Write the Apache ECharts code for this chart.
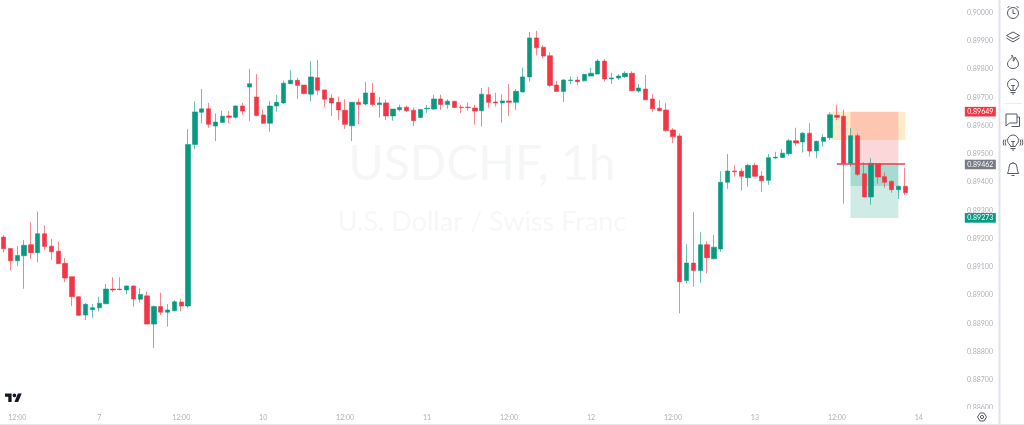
<!DOCTYPE html>
<html><head><meta charset="utf-8">
<style>html,body{margin:0;padding:0;background:#fff}#c{width:1024px;height:425px}</style>
<script src="https://cdn.jsdelivr.net/npm/echarts@6/dist/echarts.min.js"></script>
</head><body><div id="c"></div>
<script>
const tickLabels = ['12:00','7','12:00','10','12:00','11','12:00','12','12:00','13','12:00','14'];
const opens = [0.89205,0.89165,0.89121,0.89139,0.89178,0.89150,0.89217,0.89173,0.89155,0.89112,0.89065,0.88994,0.88929,0.88948,0.88955,0.88969,0.89021,0.89021,0.89018,0.89032,0.88985,0.88997,0.88897,0.88959,0.88939,0.88944,0.88975,0.88961,0.89533,0.89647,0.89659,0.89598,0.89611,0.89634,0.89629,0.89669,0.89736,0.89701,0.89637,0.89608,0.89669,0.89680,0.89748,0.89760,0.89743,0.89711,0.89769,0.89726,0.89697,0.89682,0.89654,0.89599,0.89682,0.89676,0.89715,0.89674,0.89680,0.89634,0.89656,0.89665,0.89654,0.89628,0.89659,0.89658,0.89694,0.89674,0.89686,0.89665,0.89665,0.89662,0.89652,0.89709,0.89683,0.89680,0.89687,0.89682,0.89719,0.89772,0.89910,0.89877,0.89847,0.89743,0.89720,0.89759,0.89761,0.89758,0.89775,0.89782,0.89828,0.89765,0.89768,0.89773,0.89785,0.89722,0.89729,0.89694,0.89661,0.89655,0.89584,0.89563,0.89051,0.89113,0.89087,0.89178,0.89128,0.89163,0.89399,0.89439,0.89438,0.89415,0.89459,0.89421,0.89406,0.89485,0.89487,0.89500,0.89546,0.89542,0.89573,0.89510,0.89544,0.89557,0.89636,0.89633,0.89466,0.89564,0.89429,0.89347,0.89465,0.89419,0.89402,0.89373,0.89385];
const closes = [0.89164,0.89121,0.89140,0.89176,0.89150,0.89217,0.89172,0.89153,0.89111,0.89060,0.88994,0.88928,0.88967,0.88955,0.88971,0.89021,0.89018,0.89019,0.89032,0.88986,0.89002,0.88897,0.88959,0.88939,0.88947,0.88976,0.88961,0.89533,0.89648,0.89659,0.89604,0.89612,0.89633,0.89629,0.89669,0.89651,0.89748,0.89635,0.89608,0.89669,0.89682,0.89750,0.89760,0.89742,0.89713,0.89772,0.89725,0.89693,0.89680,0.89655,0.89604,0.89682,0.89674,0.89715,0.89674,0.89680,0.89634,0.89658,0.89664,0.89652,0.89617,0.89657,0.89661,0.89694,0.89674,0.89686,0.89664,0.89663,0.89663,0.89651,0.89711,0.89682,0.89680,0.89687,0.89682,0.89721,0.89772,0.89910,0.89875,0.89846,0.89742,0.89720,0.89761,0.89761,0.89755,0.89781,0.89785,0.89828,0.89765,0.89768,0.89775,0.89785,0.89723,0.89733,0.89691,0.89659,0.89652,0.89582,0.89560,0.89047,0.89113,0.89087,0.89178,0.89132,0.89169,0.89399,0.89439,0.89436,0.89420,0.89459,0.89420,0.89404,0.89486,0.89488,0.89502,0.89546,0.89538,0.89573,0.89510,0.89544,0.89558,0.89638,0.89629,0.89466,0.89564,0.89427,0.89347,0.89466,0.89418,0.89399,0.89373,0.89385,0.89362];
const lows = [0.89151,0.89086,0.89103,0.89022,0.89127,0.89116,0.89159,0.89124,0.89111,0.89046,0.88961,0.88926,0.88911,0.88919,0.88942,0.88969,0.89011,0.89017,0.89003,0.88959,0.88973,0.88897,0.88813,0.88929,0.88888,0.88942,0.88942,0.88955,0.89516,0.89608,0.89592,0.89545,0.89609,0.89609,0.89624,0.89637,0.89616,0.89633,0.89605,0.89578,0.89649,0.89675,0.89748,0.89694,0.89710,0.89686,0.89708,0.89665,0.89634,0.89619,0.89588,0.89545,0.89604,0.89671,0.89669,0.89628,0.89619,0.89617,0.89650,0.89648,0.89598,0.89627,0.89645,0.89656,0.89655,0.89659,0.89663,0.89644,0.89652,0.89603,0.89596,0.89663,0.89667,0.89610,0.89634,0.89655,0.89716,0.89755,0.89848,0.89838,0.89736,0.89719,0.89683,0.89747,0.89742,0.89756,0.89775,0.89782,0.89755,0.89747,0.89761,0.89768,0.89723,0.89716,0.89690,0.89647,0.89651,0.89578,0.89538,0.88935,0.89041,0.89029,0.89043,0.89077,0.89126,0.89153,0.89376,0.89419,0.89369,0.89383,0.89419,0.89365,0.89390,0.89481,0.89485,0.89493,0.89528,0.89504,0.89490,0.89484,0.89525,0.89548,0.89619,0.89323,0.89454,0.89421,0.89347,0.89320,0.89394,0.89380,0.89362,0.89340,0.89354];
const highs = [0.89212,0.89166,0.89173,0.89195,0.89258,0.89295,0.89247,0.89199,0.89190,0.89131,0.89065,0.88994,0.88972,0.88968,0.88994,0.89039,0.89063,0.89063,0.89034,0.89034,0.89024,0.89012,0.88963,0.89008,0.88968,0.88982,0.88987,0.89588,0.89686,0.89729,0.89680,0.89643,0.89652,0.89651,0.89671,0.89680,0.89800,0.89782,0.89656,0.89687,0.89708,0.89759,0.89796,0.89769,0.89743,0.89828,0.89832,0.89726,0.89711,0.89703,0.89693,0.89682,0.89696,0.89754,0.89750,0.89701,0.89691,0.89658,0.89674,0.89670,0.89664,0.89658,0.89673,0.89709,0.89709,0.89693,0.89686,0.89673,0.89682,0.89673,0.89733,0.89736,0.89716,0.89711,0.89747,0.89729,0.89805,0.89931,0.89935,0.89884,0.89859,0.89758,0.89764,0.89773,0.89773,0.89782,0.89804,0.89835,0.89835,0.89787,0.89782,0.89792,0.89792,0.89747,0.89779,0.89711,0.89690,0.89680,0.89590,0.89572,0.89180,0.89293,0.89222,0.89190,0.89213,0.89439,0.89499,0.89460,0.89448,0.89464,0.89468,0.89438,0.89499,0.89507,0.89517,0.89553,0.89592,0.89577,0.89609,0.89546,0.89569,0.89647,0.89674,0.89655,0.89591,0.89572,0.89470,0.89484,0.89466,0.89434,0.89406,0.89387,0.89451];
const stopPrice = 0.89649, entryPrice = 0.89462, targetPrice = 0.89273;
const entryLinePrice = 0.89466, orangeLowPrice = 0.89549, darkGreenLowPrice = 0.89386;
const yMin = 0.886, yMax = 0.900, yStep = 0.001;
const slotCount = 146, tagSlot = 143;

const UP = '#089981', DOWN = '#F23645';
const categories = Array.from({length: slotCount}, (_, i) => (i % 12 === 2 && tickLabels[(i - 2) / 12]) || '');
const ohlc = opens.map((o, i) => [o, closes[i], lows[i], highs[i]]);
const FONT = 'Lato, "Open Sans", sans-serif';
const ICON = '#555965';
const AXIS_TEXT = '#aeb1ba';

let shapeId = 0;
function shapeFrom(d) {
  const name = 'tvShape' + (shapeId++);
  echarts.graphic.registerShape(name, echarts.graphic.extendPath(d));
  return name;
}
function icon(x, y, d) {
  return {type:shapeFrom(d), x, y, silent:true, z:50, style:{fill:'none', stroke:ICON, lineWidth:1}};
}
const bulb = 'M-2.5 3.5C-2.5 1.5-5.5 .5-5.5-2.5A5.5 5.5 0 0 1 5.5-2.5C5.5 .5 2.5 1.5 2.5 3.5ZM-2.5 5.5H2.5M-1 7H1M0 3.5V-1.5M-1.8-1.5H1.8';
const graphics = [
  {type:'text', x:482, y:165, z:-1, silent:true, style:{text:'USDCHF, 1h', font:'48px '+FONT, fill:'#f5f6f6', align:'center', verticalAlign:'middle'}},
  {type:'text', x:482, y:222, z:-1, silent:true, style:{text:'U.S. Dollar / Swiss Franc', font:'27px '+FONT, fill:'#f6f7f7', align:'center', verticalAlign:'middle'}},
  {type:'rect', z:40, silent:true, shape:{x:960,y:409,width:38,height:5}, style:{fill:'#fff'}},
  {type:'rect', z:41, silent:true, shape:{x:998.5,y:0,width:2,height:425}, style:{fill:'#e0e3eb'}},
  {type:'rect', z:41, silent:true, shape:{x:0,y:424,width:1024,height:1}, style:{fill:'#e6e6e6'}},
  {type:'rect', z:41, silent:true, shape:{x:1004,y:103,width:18,height:1}, style:{fill:'#eeeeee'}},
  {type:shapeFrom('M14 22H7V11H0V4h14v18zM28 22h-8l7.5-18h8L28 22zM24 8a4 4 0 1 1-8 0a4 4 0 1 1 8 0z'),
    x:5, y:391.6, scaleX:.47, scaleY:.47, z:50, silent:true, style:{fill:'#131722'}},
  icon(1013, 12, 'M-5.5 1a5.5 5.5 0 1 0 11 0a5.5 5.5 0 1 0-11 0ZM0-2.5V1.5H2.5M-5.5-4L-3.5-6M5.5-4L3.5-6'),
  icon(1013, 37, 'M0-5L6.5-1.5L0 2L-6.5-1.5ZM-6.5 1L0 5L6.5 1'),
  icon(1013, 62, 'M-1-7C0-3-5.5-2-5.5 2C-5.5 5-3 6.5 0 6.5C3 6.5 5.5 5 5.5 2C5.5-1 3-3 2-5C2-2 1-1 0-1C1-3 0-5-1-7Z'),
  icon(1013, 87, bulb),
  icon(1012.5, 120, 'M-6.5-6H4.5V3H-3L-6.5 6ZM4.5-3H7V6.5H-1'),
  icon(1013, 143, bulb + 'M-7-3.5C-8-1.5-8 .5-7 2.5M-9-3.5C-10-1.5-10 .5-9 2.5M7-3.5C8-1.5 8 .5 7 2.5M9-3.5C10-1.5 10 .5 9 2.5'),
  icon(1013, 169, 'M-5.5 4.5C-4.5 2-4 0-4-2A4 4 0 0 1 4-2C4 0 4.5 2 5.5 4.5ZM-1.5 6.5H1.5M0-6V-7'),
  icon(982, 417, 'M-2-4H2L4.5 0L2 4H-2L-4.5 0ZM-1.6 0a1.6 1.6 0 1 0 3.2 0a1.6 1.6 0 1 0-3.2 0Z')
];

function tag(price, color) {
  return {coord:[tagSlot, price], symbol:'rect', symbolSize:[31,9.6],
    itemStyle:{color}, label:{show:true, position:'inside', color:'#fff', fontSize:7, fontFamily:FONT,
      formatter: price.toFixed(5)}};
}
const zone = (a, b, y1, y2, color) => [{xAxis:a, yAxis:y1, itemStyle:{color}}, {xAxis:b, yAxis:y2}];

const option = {
  animation:false, backgroundColor:'#fff',
  grid:{left:0.2, top:12.5, width:997.18, height:395.5, containLabel:false},
  xAxis:{type:'category', data:categories, boundaryGap:true,
    axisLine:{show:false}, axisTick:{show:false}, splitLine:{show:false},
    axisLabel:{interval:(i, v) => v !== '', margin:6, color:AXIS_TEXT, fontSize:7, fontFamily:FONT, hideOverlap:false}},
  yAxis:{type:'value', position:'right', min:yMin, max:yMax, interval:yStep,
    axisLine:{show:false}, axisTick:{show:false}, splitLine:{show:false},
    axisLabel:{inside:true, margin:4.4, color:AXIS_TEXT, fontSize:7, fontFamily:FONT, formatter:v => v.toFixed(5)}},
  graphic:graphics,
  series:[{
    type:'candlestick', data:ohlc, barWidth:4.8, clip:false,
    itemStyle:{color:UP, color0:DOWN, borderColor:'rgba(8,153,129,.6)', borderColor0:'rgba(242,54,69,.6)', borderWidth:1},
    markArea:{silent:true, z:1, data:[
      zone(121, 132, stopPrice, orangeLowPrice, 'rgba(255,152,0,.2)'),
      zone(124, 131, stopPrice, entryLinePrice, 'rgba(242,54,69,.2)'),
      zone(124, 131, entryLinePrice, targetPrice, 'rgba(8,153,129,.2)'),
      zone(124, 131, entryLinePrice, darkGreenLowPrice, 'rgba(8,153,129,.2)')
    ]},
    markLine:{silent:true, symbol:'none', z:5, label:{show:false},
      lineStyle:{color:'#EF3F4D', width:1.5, type:'solid'},
      data:[[{xAxis:122, yAxis:entryLinePrice},{xAxis:132, yAxis:entryLinePrice}]]},
    markPoint:{silent:true, z:20, data:[tag(stopPrice, DOWN), tag(entryPrice, '#787B86'), tag(targetPrice, UP)]}
  }]
};
echarts.init(document.getElementById('c'), null, {renderer:'canvas'}).setOption(option);
</script></body></html>
